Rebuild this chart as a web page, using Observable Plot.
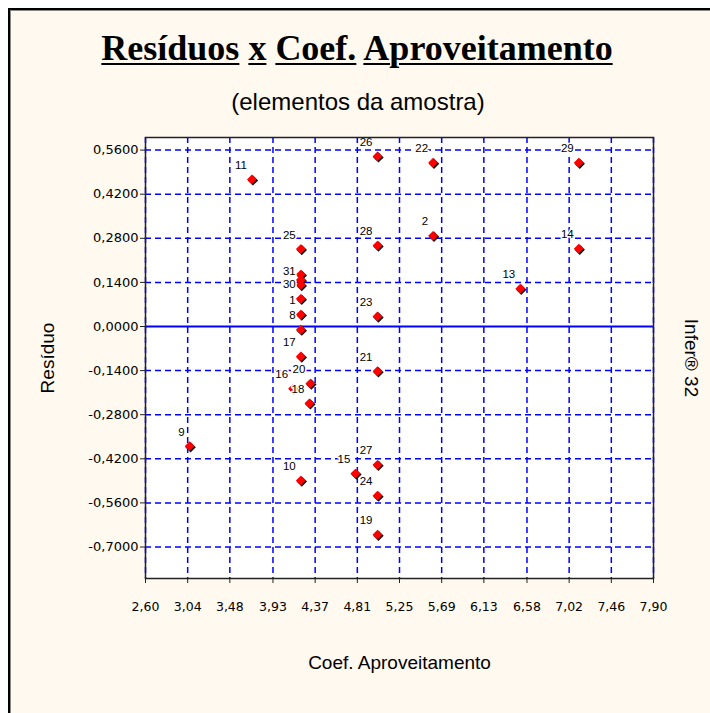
<!DOCTYPE html>
<html>
<head>
<meta charset="utf-8">
<script src="https://cdn.jsdelivr.net/npm/d3@7"></script>
<script src="https://cdn.jsdelivr.net/npm/@observablehq/plot@0.6"></script>
<style>
html, body { margin: 0; padding: 0; background: #ffffff; width: 710px; height: 713px; overflow: hidden; }
#panel { position: absolute; left: 8px; top: 8px; width: 702px; height: 705px; background: #FFF9EF;
  border-left: 2px solid #000; border-top: 2px solid #000; box-sizing: border-box;
  box-shadow: inset 1px 1px 0 #8a8a80; }
#title { position: absolute; left: 0; top: 30px; width: 714px; text-align: center;
  font-family: "Liberation Serif", "Times New Roman", serif; font-weight: bold; font-size: 36px; line-height: 36px; color: #000; }
#title span { text-decoration: underline; text-decoration-thickness: 2px; text-underline-offset: 3px; }
#subtitle { position: absolute; left: 0; top: 90px; width: 716px; text-align: center;
  font-family: "Liberation Sans", Arial, sans-serif; font-size: 24px; line-height: 24px; color: #000; }
#chart { position: absolute; left: 0; top: 125px; }
</style>
</head>
<body>
<div id="panel"></div>
<div id="title"><span>Resíduos</span> <span>x</span> <span>Coef.</span> <span>Aproveitamento</span></div>
<div id="subtitle">(elementos da amostra)</div>
<div id="chart"></div>
<script>
// ---- data ----
const labels = ["26", "22", "29", "11", "25", "28", "2", "14", "13", "", "", "31", "30", "1", "8", "23", "17", "21", "20", "16", "18", "9", "10", "27", "15", "24", "19"];
const coefAproveitamento = [5.02, 5.60, 7.12, 3.71, 4.22, 5.02, 5.60, 7.12, 6.51, 4.22, 4.22, 4.22, 4.22, 4.22, 4.22, 5.02, 4.22, 5.02, 4.32, 4.14, 4.31, 3.06, 4.22, 5.02, 4.79, 5.02, 5.02];
const residuo = [0.540, 0.520, 0.520, 0.467, 0.246, 0.257, 0.288, 0.247, 0.120, 0.165, 0.148, 0.132, 0.088, 0.038, -0.010, 0.032, -0.095, -0.142, -0.181, -0.197, -0.244, -0.380, -0.489, -0.439, -0.467, -0.537, -0.661];

const xTicks = [2.60, 3.04, 3.48, 3.93, 4.37, 4.81, 5.25, 5.69, 6.13, 6.58, 7.02, 7.46, 7.90];
const yTicks = [0.56, 0.42, 0.28, 0.14, 0, -0.14, -0.28, -0.42, -0.56, -0.70];
const xLabel = "Coef. Aproveitamento";
const yLabel = "Resíduo";
const sideLabel = "Infer® 32";

const points = labels.map((id, i) => ({id, x: coefAproveitamento[i], y: residuo[i]}));
const fmtX = d => d.toFixed(2).replace(".", ",");
const fmtY = d => d.toFixed(4).replace(".", ",");
const blue = "#0000ff";

const chart = Plot.plot({
  width: 710,
  height: 588,
  marginLeft: 145,
  marginRight: 57,
  marginTop: 12,
  marginBottom: 135,
  x: {domain: [2.6, 7.9]},
  y: {domain: [-0.8, 0.6]},
  style: {background: "transparent", fontFamily: "DejaVu Sans", color: "#000", overflow: "visible"},
  marks: [
    Plot.frame({fill: "white", stroke: null}),
    Plot.ruleX(xTicks, {x: d => d, stroke: blue, strokeWidth: 1.5, strokeDasharray: "6,4"}),
    Plot.ruleY(yTicks.filter(d => d !== 0), {y: d => d, stroke: blue, strokeWidth: 1.5, strokeDasharray: "6,4"}),
    Plot.ruleY([0], {y: d => d, stroke: blue, strokeWidth: 2}),
    Plot.axisX(xTicks, {tickFormat: fmtX, tickSize: 5, tickPadding: 19, fontSize: 12.5, fontFamily: "DejaVu Sans", label: null, stroke: "#222"}),
    Plot.axisY(yTicks, {tickFormat: fmtY, tickSize: 5, tickPadding: 2, fontSize: 13, fontFamily: "DejaVu Sans", label: null, stroke: "#222"}),
    Plot.dot(points, {x: "x", y: "y", symbol: "diamond2", r: 4.7, fill: "#111", stroke: null, dx: 1, dy: 1}),
    Plot.dot(points, {x: "x", y: "y", symbol: "diamond2", r: 4.4, fill: "#ff0000", stroke: null}),
    Plot.text(points.filter(d => d.id !== ""), {x: "x", y: "y", text: "id", textAnchor: "end", lineAnchor: "middle",
      dx: -5, dy: -14, fontSize: 11.5, fontFamily: "Liberation Sans", fill: "#000", stroke: "white", strokeWidth: 3, paintOrder: "stroke"}),
    Plot.frame({stroke: "#222", strokeWidth: 1.5}),
    Plot.text([xLabel], {text: d => d, frameAnchor: "bottom", dy: 84, textAnchor: "middle", lineAnchor: "middle",
      fontSize: 19, fontFamily: "Liberation Sans", fill: "#000"}),
    Plot.text([yLabel], {text: d => d, frameAnchor: "left", dx: -98, rotate: -90, textAnchor: "middle", lineAnchor: "middle",
      fontSize: 19, fontFamily: "Liberation Sans", fill: "#000"}),
    Plot.text([sideLabel], {text: d => d, frameAnchor: "right", dx: 38, rotate: 90, textAnchor: "middle", lineAnchor: "middle",
      fontSize: 19, fontFamily: "Liberation Sans", fill: "#000"})
  ]
});
document.getElementById("chart").appendChild(chart);
</script>
</body>
</html>
